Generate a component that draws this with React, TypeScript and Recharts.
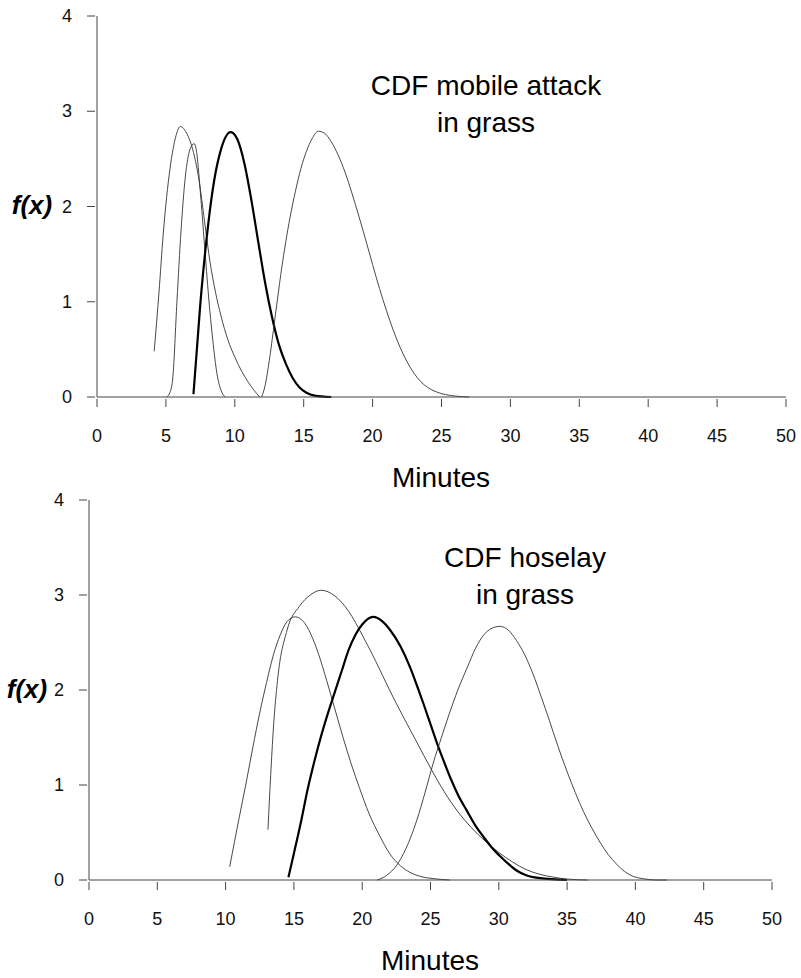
import React from "react";
import { LineChart, Line, XAxis, YAxis } from "recharts";

const xTicks = [0, 5, 10, 15, 20, 25, 30, 35, 40, 45, 50];
const yTicks = [0, 1, 2, 3, 4];

// CDF mobile attack in grass: [minutes, f(x)]
const attackA = [
  [4.15, 0.48], [4.5, 1.1], [4.8, 1.7], [5.3, 2.4], [5.66, 2.7], [6.05, 2.84],
  [6.5, 2.77], [7.0, 2.57], [7.4, 2.28], [7.8, 1.85], [8.2, 1.42], [8.6, 1.1],
  [9.0, 0.85], [9.5, 0.6], [10.0, 0.42], [10.5, 0.27], [11.0, 0.15], [11.4, 0.07],
  [11.8, 0],
];
const attackB = [
  [5.05, 0], [5.3, 0.05], [5.5, 0.2], [5.8, 1.0], [6.1, 1.75], [6.4, 2.3],
  [6.75, 2.6], [7.05, 2.66], [7.2, 2.6], [7.5, 2.15], [7.8, 1.6], [8.1, 1.05],
  [8.4, 0.6], [8.7, 0.25], [9.0, 0.07], [9.3, 0],
];
const attackC = [
  [7.0, 0.03], [7.3, 0.6], [7.5, 0.98], [7.8, 1.45], [8.1, 1.85], [8.5, 2.27],
  [9.0, 2.6], [9.7, 2.78], [10.2, 2.7], [10.7, 2.45], [11.2, 2.07], [11.7, 1.63],
  [12.2, 1.2], [12.7, 0.84], [13.2, 0.55], [13.7, 0.35], [14.2, 0.2], [14.7, 0.1],
  [15.2, 0.045], [15.8, 0.015], [17.0, 0],
];
const attackD = [
  [11.95, 0], [12.2, 0.12], [12.5, 0.38], [12.8, 0.7], [13.1, 1.03], [13.4, 1.35],
  [13.7, 1.63], [14.0, 1.88], [14.4, 2.16], [14.8, 2.4], [15.2, 2.58], [15.6, 2.71],
  [16.05, 2.79], [16.5, 2.77], [17.0, 2.68], [17.5, 2.54], [18.0, 2.36], [18.5, 2.14],
  [19.0, 1.9], [19.5, 1.65], [20.0, 1.39], [20.5, 1.14], [21.0, 0.91], [21.5, 0.7],
  [22.0, 0.52], [22.5, 0.37], [23.0, 0.25], [23.5, 0.16], [24.0, 0.1], [24.6, 0.055],
  [25.3, 0.025], [26.0, 0.01], [27.0, 0],
];

// CDF hoselay in grass
const hoseE = [
  [10.3, 0.14], [11.0, 0.66], [11.5, 1.02], [12.0, 1.4], [12.5, 1.76], [13.0, 2.08],
  [13.5, 2.37], [14.0, 2.58], [14.5, 2.72], [15.1, 2.77], [15.7, 2.72], [16.2, 2.6],
  [16.8, 2.38], [17.4, 2.1], [18.0, 1.8], [18.6, 1.5], [19.2, 1.22], [19.8, 0.97],
  [20.5, 0.7], [21.3, 0.46], [22.0, 0.28], [22.8, 0.15], [23.5, 0.08], [24.2, 0.04],
  [25.2, 0.015], [26.4, 0],
];
const hoseF = [
  [13.1, 0.53], [13.3, 1.1], [13.5, 1.6], [13.8, 2.1], [14.5, 2.63], [15.4, 2.88],
  [16.2, 3.0], [17.0, 3.05], [18.0, 2.99], [19.0, 2.83], [20.0, 2.58], [21.0, 2.3],
  [22.0, 2.0], [23.0, 1.72], [24.0, 1.45], [25.0, 1.18], [26.0, 0.93], [27.0, 0.72],
  [28.0, 0.55], [29.0, 0.41], [30.0, 0.29], [31.0, 0.19], [32.0, 0.11], [33.0, 0.06],
  [34.0, 0.03], [35.0, 0.01], [36.5, 0],
];
const hoseG = [
  [14.6, 0.03], [15.0, 0.28], [15.5, 0.6], [16.0, 0.95], [16.5, 1.25], [17.0, 1.52],
  [17.5, 1.76], [18.0, 1.98], [18.5, 2.2], [19.0, 2.42], [19.5, 2.58], [20.0, 2.69],
  [20.8, 2.77], [21.5, 2.72], [22.0, 2.64], [22.8, 2.46], [23.5, 2.24], [24.0, 2.05],
  [24.5, 1.85], [25.0, 1.64], [25.5, 1.43], [26.0, 1.24], [26.5, 1.06], [27.0, 0.9],
  [27.7, 0.72], [28.3, 0.57], [28.9, 0.45], [29.5, 0.34], [30.1, 0.25], [30.7, 0.17],
  [31.3, 0.1], [32.0, 0.05], [33.0, 0.02], [35.0, 0],
];
const hoseH = [
  [21.1, 0], [21.8, 0.05], [22.5, 0.15], [23.2, 0.33], [24.0, 0.63], [24.6, 0.92],
  [25.2, 1.23], [25.8, 1.5], [26.4, 1.76], [27.0, 2.0], [27.7, 2.24], [28.3, 2.44],
  [28.9, 2.58], [29.5, 2.65], [30.1, 2.67], [30.7, 2.63], [31.3, 2.52], [31.9, 2.37],
  [32.5, 2.17], [33.1, 1.93], [33.7, 1.68], [34.3, 1.42], [35.0, 1.14], [35.6, 0.92],
  [36.2, 0.72], [36.8, 0.55], [37.4, 0.4], [38.0, 0.27], [38.6, 0.17], [39.2, 0.09],
  [39.8, 0.04], [40.5, 0.015], [41.5, 0], [42.3, 0],
];

const toPoints = (pairs: number[][]) => pairs.map(([x, y]) => ({ x, y }));

const FONT = "'Liberation Sans', Arial, sans-serif";
const AXIS = "#444";

const XTick = ({ x, y, payload }: any) => (
  <g>
    <line x1={x} x2={x} y1={y - 4} y2={y + 4} stroke={AXIS} />
    <text x={x} y={y + 39} textAnchor="middle" fontSize={18} fontFamily={FONT} fill="#111">
      {payload.value}
    </text>
  </g>
);

const YTick = ({ x, y, payload }: any) => (
  <g>
    <line x1={x - 4} x2={x + 4} y1={y} y2={y} stroke={AXIS} />
    <text x={x - 19} y={y + 6} textAnchor="end" fontSize={18} fontFamily={FONT} fill="#111">
      {payload.value}
    </text>
  </g>
);

interface Curve {
  name: string;
  pts: number[][];
  bold?: boolean;
}

interface PanelProps {
  top: number;
  height: number;
  margin: { top: number; left: number; right: number; bottom: number };
  curves: Curve[];
  title: string[];
  titleX: number;
  titleY: number;
  minutesX: number;
  minutesY: number;
  fxX: number;
  fxY: number;
}

const Panel: React.FC<PanelProps> = ({
  top, height, margin, curves, title, titleX, titleY, minutesX, minutesY, fxX, fxY,
}) => (
  <div style={{ position: "absolute", left: 0, top }}>
    <LineChart width={801} height={height} margin={margin}>
      <XAxis
        type="number"
        dataKey="x"
        domain={[0, 50]}
        ticks={xTicks}
        height={60}
        tickLine={false}
        tickMargin={0}
        tick={<XTick />}
        stroke={AXIS}
        interval={0}
      />
      <YAxis
        type="number"
        dataKey="y"
        domain={[0, 4]}
        ticks={yTicks}
        width={60}
        tickLine={false}
        tickMargin={0}
        tick={<YTick />}
        stroke={AXIS}
        interval={0}
      />
      {curves.map((c) => (
        <Line
          key={c.name}
          data={toPoints(c.pts)}
          dataKey="y"
          type="monotone"
          dot={false}
          stroke={c.bold ? "#000" : "#333"}
          strokeWidth={c.bold ? 2.2 : 0.9}
          isAnimationActive={false}
        />
      ))}
      {title.map((t, i) => (
        <text key={t} x={titleX} y={titleY + i * 37} textAnchor="middle" fontSize={28} fontFamily={FONT} fill="#000">
          {t}
        </text>
      ))}
      <text x={minutesX} y={minutesY} textAnchor="middle" fontSize={28} fontFamily={FONT} fill="#000">
        Minutes
      </text>
      <text x={fxX} y={fxY} textAnchor="middle" fontSize={26} fontWeight="bold" fontStyle="italic" fontFamily={FONT} fill="#000">
        f(x)
      </text>
    </LineChart>
  </div>
);

export default function App() {
  return (
    <div style={{ position: "absolute", left: 0, top: 0, width: 801, height: 978, background: "#fff" }}>
      <Panel
        top={0}
        height={496}
        margin={{ top: 16, left: 37, right: 15, bottom: 39 }}
        curves={[
          { name: "a", pts: attackA },
          { name: "b", pts: attackB },
          { name: "c", pts: attackC, bold: true },
          { name: "d", pts: attackD },
        ]}
        title={["CDF mobile attack", "in grass"]}
        titleX={486}
        titleY={95}
        minutesX={441}
        minutesY={487}
        fxX={32}
        fxY={214}
      />
      <Panel
        top={488}
        height={490}
        margin={{ top: 12, left: 29, right: 29, bottom: 38 }}
        curves={[
          { name: "e", pts: hoseE },
          { name: "f", pts: hoseF },
          { name: "g", pts: hoseG, bold: true },
          { name: "h", pts: hoseH },
        ]}
        title={["CDF hoselay", "in grass"]}
        titleX={525}
        titleY={79}
        minutesX={430}
        minutesY={482}
        fxX={27}
        fxY={210}
      />
    </div>
  );
}
